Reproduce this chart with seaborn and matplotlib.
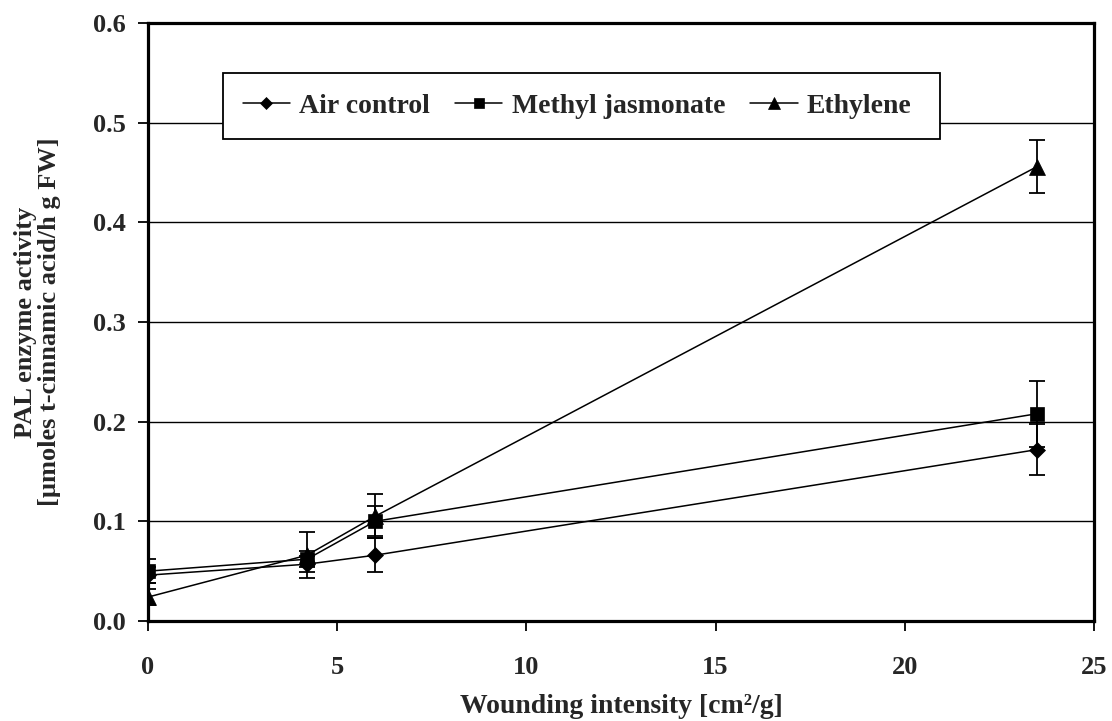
import pandas as pd
import numpy as np
import matplotlib.pyplot as plt
import seaborn as sns
from matplotlib.patches import Rectangle

sns.set_theme(style='white')
plt.rcParams['font.family'] = ['Liberation Serif', 'DejaVu Serif']
plt.rcParams['font.weight'] = 'bold'
plt.rcParams['axes.labelweight'] = 'bold'

# data
wounding = [0, 4.2, 6, 23.5]
series_names = ['Air control', 'Methyl jasmonate', 'Ethylene']
air_control = [0.046, 0.057, 0.066, 0.172]
air_control_err = [0.008, 0.008, 0.017, 0.026]
methyl_jasmonate = [0.050, 0.062, 0.100, 0.208]
methyl_jasmonate_err = [0.012, 0.008, 0.015, 0.033]
ethylene = [0.024, 0.066, 0.105, 0.456]
ethylene_err = [0.008, 0.023, 0.022, 0.027]

values = [air_control, methyl_jasmonate, ethylene]
errors = [air_control_err, methyl_jasmonate_err, ethylene_err]
markers = ['D', 's', '^']
marker_sizes = [8.5, 10, 11.5]

df = pd.DataFrame({
    'x': np.tile(wounding, 3),
    'y': np.concatenate(values),
    'err': np.concatenate(errors),
    'series': np.repeat(series_names, len(wounding)),
})

fig, ax = plt.subplots(figsize=(11.12, 7.21), dpi=100)
fig.subplots_adjust(left=0.1331, right=0.9838, top=0.9681, bottom=0.1387)

for name, m, ms in zip(series_names, markers, marker_sizes):
    sub = df[df['series'] == name]
    sns.lineplot(data=sub, x='x', y='y', ax=ax, color='black', linewidth=1.1,
                 marker=m, markersize=ms, markeredgecolor='black',
                 markerfacecolor='black', markeredgewidth=0.5,
                 label=name, sort=False, errorbar=None, zorder=3)
    ax.errorbar(sub['x'], sub['y'], yerr=sub['err'], fmt='none', ecolor='black',
                elinewidth=1.3, capsize=6, capthick=1.3, zorder=3)

ax.set_xlim(0, 25)
ax.set_ylim(0, 0.6)
ax.set_xticks([0, 5, 10, 15, 20, 25])
ax.set_yticks(np.arange(0, 0.61, 0.1))
ax.set_yticklabels([f'{v:.1f}' for v in np.arange(0, 0.61, 0.1)])
for yv in [0.1, 0.2, 0.3, 0.4, 0.5]:
    ax.axhline(yv, color='black', linewidth=1.0, zorder=1)

ax.tick_params(axis='both', which='major', labelsize=19, direction='out',
               length=7, width=1.3, color='black', left=True, bottom=True)
ax.tick_params(axis='y', pad=9)
ax.tick_params(axis='x', pad=18)
for lab in ax.get_xticklabels() + ax.get_yticklabels():
    lab.set_fontweight('bold')

for sp in ax.spines.values():
    sp.set_color('black')
    sp.set_linewidth(2.3)

ax.set_xlabel('Wounding intensity [cm²/g]', fontsize=20, fontweight='bold', labelpad=11)
ax.set_ylabel('PAL enzyme activity\n[µmoles t-cinnamic acid/h g FW]', fontsize=19,
              fontweight='bold', labelpad=23, linespacing=1.05)

# legend box
ax.add_patch(Rectangle((0.079, 0.806), 0.758, 0.11, transform=ax.transAxes,
                       facecolor='white', edgecolor='black', linewidth=1.3, zorder=5))
handles, labels = ax.get_legend_handles_labels()
leg = ax.legend(handles, labels, loc='center left', bbox_to_anchor=(0.1, 0.861),
                ncol=3, frameon=False, fontsize=20, borderpad=0, borderaxespad=0,
                handlelength=1.7, handletextpad=0.34, columnspacing=0.9,
                markerscale=0.75)
leg.set_zorder(6)
for t in leg.get_texts():
    t.set_fontweight('bold')

plt.savefig('out.png', dpi=100)
plt.close()
